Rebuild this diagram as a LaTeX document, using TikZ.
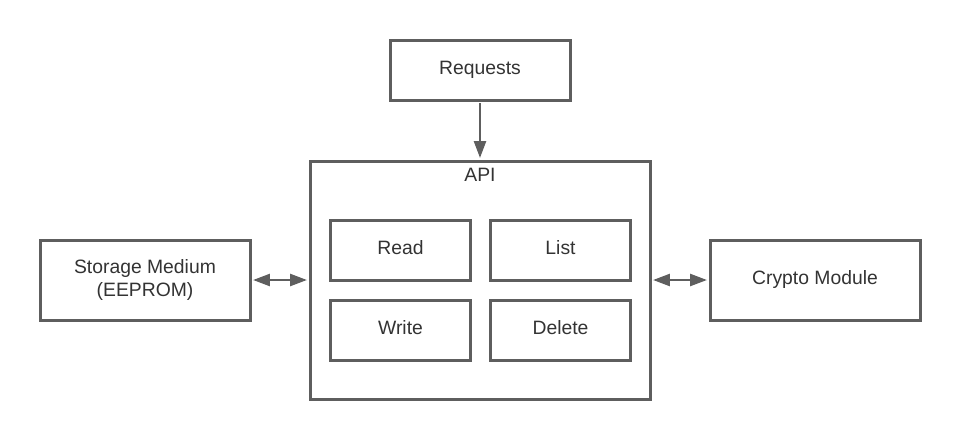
\documentclass[tikz,border=0pt]{standalone}
\usepackage{fontspec}
\setmainfont{Liberation Sans}
\usepackage{tikz}
\usetikzlibrary{positioning,arrows.meta}
\definecolor{boxline}{RGB}{94,94,94}
\definecolor{boxtext}{RGB}{51,51,51}

\begin{document}
\begin{tikzpicture}[
  x=0.75pt, y=-0.75pt,
  blk/.style={rectangle, draw=boxline, line width=2.25pt, fill=white,
              text=boxtext, font=\fontsize{14.5}{17.5}\selectfont,
              minimum width=#1*0.75pt, minimum height=60*0.75pt, align=center,
              inner sep=0pt},
  blk/.default=140,
  oneline/.style={text height=10.5pt, text depth=4.5pt},
  ar/.style={{Triangle[length=12.5pt,width=9pt]}-{Triangle[length=12.5pt,width=9pt]},
             line width=1.5pt, draw=boxline, shorten <=1.2pt, shorten >=1.2pt},
  arone/.style={-{Triangle[length=12.5pt,width=9pt]}, line width=1.5pt,
                draw=boxline, shorten <=1.2pt, shorten >=1.2pt},
]
\useasboundingbox (0,0) rectangle (960,440);

\node[blk=180, oneline] (req) at (480, 70) {Requests};

\node[blk=340, minimum height=238*0.75pt] (api) at (480, 280) {};
\node[text=boxtext, font=\fontsize{14.5}{17.5}\selectfont] (apititle) at (480, 175) {API};

\node[blk, oneline] (read)  at (400.5, 250) {Read};
\node[blk, oneline] (list)  at (560.5, 250) {List};
\node[blk, oneline] (write) at (400.5, 330) {Write};
\node[blk, oneline] (del)   at (560.5, 330) {Delete};

\node[blk=210, minimum height=80*0.75pt] (stor) at (145, 280) {Storage Medium\\(EEPROM)};
\node[blk=210, minimum height=80*0.75pt, oneline] (cry)  at (815, 280) {Crypto Module};

\draw[arone] (req.south) -- (api.north);
\draw[ar] (stor.east) -- (api.west|-stor.east);
\draw[ar] (api.east|-cry.west) -- (cry.west);

\end{tikzpicture}
\end{document}
